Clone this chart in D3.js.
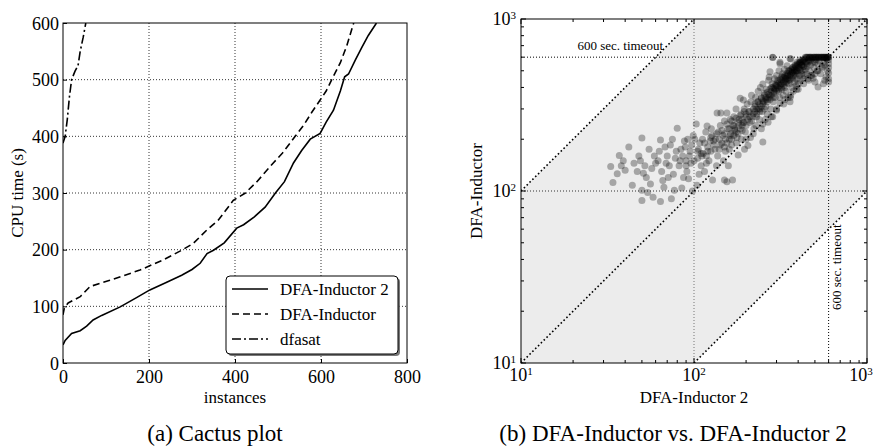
<!DOCTYPE html>
<html>
<head>
<meta charset="utf-8">
<script src="https://d3js.org/d3.v7.min.js"></script>
<style>
body { margin: 0; background: #fff; }
svg text { font-family: "Liberation Serif", "Times New Roman", "DejaVu Serif", serif; fill: #000; }
</style>
</head>
<body>
<svg id="fig" width="877" height="447"></svg>
<script>
// ---- data ----
var seriesNames = ["DFA-Inductor 2", "DFA-Inductor", "dfasat"];

// cactus plot: [instances solved, cpu time (s)]
var ind2Cactus = [[0,32],[5,40],[20,52],[40,57],[55,65],[70,76],[90,84],[133,99],[170,115],[202,129],
  [240,142],[276,155],[300,165],[319,176],[335,193],[350,199],[375,212],[404,238],[420,244],[445,258],
  [470,275],[494,300],[515,320],[536,353],[555,375],[575,395],[598,405],[612,425],[629,446],[645,480],
  [655,505],[664,510],[680,535],[695,557],[710,578],[729,600]];
var indCactus = [[0,85],[3,97],[12,106],[40,117],[63,135],[109,146],[179,164],[233,182],[276,199],
  [303,211],[335,235],[361,252],[396,287],[424,300],[451,320],[489,353],[510,370],[540,400],[560,420],
  [579,443],[598,464],[612,480],[625,500],[645,530],[660,560],[676,600]];
var dfasatCactus = [[0,388],[5,400],[10,430],[15,470],[20,500],[28,515],[35,525],[40,550],[47,575],[53,600]];

var cactusXTicks = [0, 200, 400, 600, 800];
var cactusYTicks = [0, 100, 200, 300, 400, 500, 600];

// scatter: [DFA-Inductor 2 time, DFA-Inductor time]
var scatterPts = [
  [33,139],[34,112],[37,161],[39,150],[38,140],[42,180],[44,108],[45,145],[40,132],[36,126],
  [47,130],[50,203],[50,101],[50,88],[48,160],[49,150],[52,140],[53,120],[55,175],[56,110],
  [58,92],[57,135],[60,145],[59,160],[54,98],[51,127],
  [64,198],[64,87],[62,150],[63,170],[65,130],[66,115],[68,180],[70,160],[72,140],[74,90],
  [75,200],[76,125],[77,101],[78,155],[80,232],[79,170],[67,105],[71,120],[73,185],[69,145],
  [82,140],[84,175],[85,104],[86,160],[88,195],[90,150],[91,130],[92,200],[93,118],[95,170],
  [96,145],[97,185],[98,100],[99,210],[87,120],[89,180],[94,160],[83,150],
  [103,245],[104,108],[105,155],[106,175],[108,190],[110,140],[112,200],[113,165],[115,130],
  [117,220],[119,239],[120,180],[122,150],[124,195],[125,170],[127,210],[128,116],[130,185],
  [107,125],[111,160],[118,145],[126,230],[101,200],
  [133,200],[136,284],[137,160],[138,220],[140,175],[142,240],[143,284],[145,190],[147,210],
  [150,116],[150,255],[152,170],[155,284],[155,113],[157,230],[160,200],[162,260],[165,185],
  [167,116],[168,240],[135,140],[148,150],[158,140],[163,215],[170,270],
  [172,230],[175,300],[177,205],[180,162],[182,260],[185,346],[187,280],[190,240],[193,338],
  [195,300],[198,220],[200,270],[203,320],[205,184],[207,290],[210,250],[213,330],[215,360],
  [218,270],[220,300],[222,230],[225,310],[227,350],[230,280],[176,190],[188,200],[196,175],
  [212,205],[228,240],
  [233,330],[235,380],[238,260],[240,300],[242,400],[245,350],[248,290],[250,419],[250,193],
  [253,330],[255,370],[258,260],[260,310],[262,390],[265,340],[268,251],[270,440],[272,460],
  [275,494],[275,360],[278,300],[280,400],[283,420],[285,597],[287,330],[290,380],[292,450],
  [295,350],[298,410],[300,300],[245,230],[265,280],[285,270],[300,470],
  [305,440],[308,380],[310,500],[312,350],[314,550],[314,324],[318,420],[320,460],[322,390],
  [325,480],[328,360],[330,430],[333,510],[335,400],[338,450],[340,380],[345,535],[345,425],
  [348,470],[350,350],[352,500],[355,420],[358,440],[359,330],[363,585],[365,480],[368,400],
  [370,520],[373,450],[375,380],[378,490],[380,430],[383,540],[385,470],[388,410],[390,500],
  [393,450],[395,560],[398,480],[400,420],[336,340],[362,360],[392,390],[410,578],
  [405,520],[408,470],[410,560],[412,440],[415,500],[418,540],[420,480],[425,505],[428,450],
  [430,580],[433,530],[435,470],[440,510],[445,560],[448,480],[452,530],[455,450],[460,570],
  [465,500],[472,540],[475,470],[485,560],[488,452],[495,520],[500,430],[505,580],[515,500],
  [521,402],[518,550],[530,570],[540,480],[550,530],[565,560],[580,590],
  [600,485],[600,430],[600,450],[600,520],[600,550],[600,580],[590,500],[580,460],[570,440],[560,420],
  [150,180],[155,190],[160,175],[165,200],[170,210],[175,220],[180,215],[185,230],[190,225],
  [195,250],[200,240],[205,260],[210,270],[215,255],[220,280],[225,290],[230,270],[235,300],
  [240,290],[245,310],[250,320],[255,300],[260,340],[265,330],[270,350],[275,340],[280,360],
  [285,350],[290,370],[295,390],[300,380],[305,400],[310,390],[315,410],[320,400],[325,420],
  [330,410],[335,440],[340,430],[345,450],[350,440],[355,460],[360,470],[365,455],[370,490],
  [375,470],[380,500],[385,490],[390,510],[395,500],[400,520],[410,510],[420,540],[430,530],
  [440,560],[450,550],[460,580],[470,570],[480,590],
  [200,200],[220,215],[250,245],[280,270],[300,295],[330,320],[360,350],[400,390],[430,420],
  [460,440],[480,470],[500,480],[520,500],[550,520],[570,540],[500,560],
  [225,320],[235,330],[245,345],[255,360],[265,375],[275,390],[285,400],[295,415],[305,430],
  [315,445],[325,460],[335,470],[345,485],[355,500],[365,510],[375,525],[385,535],[395,545],
  [405,555],[415,565],[425,575],[435,585],
  [230,300],[240,320],[250,335],[260,350],[270,365],[280,380],[290,395],[300,410],[310,425],
  [320,440],[330,455],[340,465],[350,480],[360,495],[370,505],[380,515],[390,530],[400,540],
  [410,550],[420,560],[430,570],
  [200,280],[210,290],[190,260],[180,250],[170,240],[160,230],[150,215],[140,200],[130,195],
  [120,170],[110,165],[100,150],[90,140],
  [115,190],[125,205],[135,215],[145,225],[155,245],[165,255],[175,265],[185,275],[195,290],
  [105,170],[118,160],[132,175],[142,185],[152,200],[162,210],[172,225],[182,240],[192,250],
  [440,600],[445,600],[450,600],[455,600],[462,600],[468,600],[475,600],[482,600],[490,600],
  [497,600],[505,600],[512,600],[520,600],[528,600],[535,600],[543,600],[550,600],[558,600],
  [565,600],[572,600],[580,600],[587,600],[594,600],[600,600],[598,600],[590,600],[575,600],
  [560,600],[545,600],[525,600],[510,600],[495,600],[470,600],[285,600],[314,560],[359,590]
];
var logTicks = [10, 100, 1000];
var timeout = 600;
var diagRatios = [10, 1, 0.1];

var svg = d3.select("#fig");

function supLabel(sel, base, exp) {
  sel.text("");
  sel.append("tspan").text(base);
  sel.append("tspan").attr("dy", "-0.55em").attr("font-size", "11px").text(exp);
}

// ===== (a) cactus plot =====
function DrawCactus() {
  var x = d3.scaleLinear().domain([0, 800]).range([63, 407]);
  var y = d3.scaleLinear().domain([0, 600]).range([363, 23]);

  svg.append("clipPath").attr("id", "clipA")
     .append("rect").attr("x", 63).attr("y", 23).attr("width", 344).attr("height", 340);

  var g = svg.append("g");

  // grid
  g.selectAll(".gx").data(cactusXTicks.slice(1, -1)).enter().append("line")
   .attr("x1", function(d) { return x(d); }).attr("x2", function(d) { return x(d); })
   .attr("y1", y(0)).attr("y2", y(600))
   .attr("stroke", "#000").attr("stroke-width", 0.8).attr("stroke-dasharray", "1,2");
  g.selectAll(".gy").data(cactusYTicks.slice(1, -1)).enter().append("line")
   .attr("y1", function(d) { return y(d); }).attr("y2", function(d) { return y(d); })
   .attr("x1", x(0)).attr("x2", x(800))
   .attr("stroke", "#000").attr("stroke-width", 0.8).attr("stroke-dasharray", "1,2");

  var line = d3.line().x(function(d) { return x(d[0]); }).y(function(d) { return y(d[1]); });
  var dashes = [null, "7,4", "9,3,2,3"];
  var curves = [ind2Cactus, indCactus, dfasatCactus];
  curves.forEach(function(c, i) {
    g.append("path").datum(c)
     .attr("clip-path", "url(#clipA)")
     .attr("d", line)
     .attr("fill", "none").attr("stroke", "#000").attr("stroke-width", 1.6)
     .attr("stroke-dasharray", dashes[i]);
  });

  // axes
  var xa = g.append("g").attr("transform", "translate(0,363)")
    .call(d3.axisBottom(x).tickValues(cactusXTicks).tickSizeInner(-4).tickSizeOuter(0).tickPadding(7));
  var ya = g.append("g").attr("transform", "translate(63,0)")
    .call(d3.axisLeft(y).tickValues(cactusYTicks).tickSizeInner(-4).tickSizeOuter(0).tickPadding(4));
  [xa, ya].forEach(function(a) {
    a.attr("font-family", null);
    a.select(".domain").remove();
    a.selectAll("text").attr("font-size", "18px");
  });
  ya.selectAll("text").attr("dy", "0.35em");

  g.append("rect").attr("x", 63).attr("y", 23).attr("width", 344).attr("height", 340)
   .attr("fill", "none").attr("stroke", "#000").attr("stroke-width", 1);

  g.append("text").attr("x", 235).attr("y", 403).attr("text-anchor", "middle")
   .attr("font-size", "17px").text("instances");
  g.append("text").attr("transform", "translate(23,193) rotate(-90)").attr("text-anchor", "middle")
   .attr("font-size", "17px").text("CPU time (s)");

  // legend
  var lg = g.append("g");
  lg.append("rect").attr("x", 228).attr("y", 278).attr("width", 172).attr("height", 78)
    .attr("rx", 4).attr("fill", "#555").attr("opacity", 0.8);
  lg.append("rect").attr("x", 226).attr("y", 276).attr("width", 172).attr("height", 78)
    .attr("rx", 4).attr("fill", "#fff").attr("stroke", "#000").attr("stroke-width", 1);
  seriesNames.forEach(function(n, i) {
    var yy = 289 + i * 25;
    lg.append("line").attr("x1", 232).attr("x2", 268).attr("y1", yy).attr("y2", yy)
      .attr("stroke", "#000").attr("stroke-width", 1.6).attr("stroke-dasharray", dashes[i]);
    lg.append("text").attr("x", 280).attr("y", yy).attr("dy", "0.35em")
      .attr("font-size", "17px").text(n);
  });

  svg.append("text").attr("x", 215).attr("y", 441).attr("text-anchor", "middle")
     .attr("font-size", "23px").text("(a) Cactus plot");
}

// ===== (b) scatter plot =====
function DrawScatter() {
  var x = d3.scaleLog().domain([10, 1000]).range([521, 867]);
  var y = d3.scaleLog().domain([10, 1000]).range([363, 19]);

  svg.append("clipPath").attr("id", "clipB")
     .append("rect").attr("x", 521).attr("y", 19).attr("width", 346).attr("height", 344);

  var g = svg.append("g").attr("clip-path", "url(#clipB)");

  // shaded band between y = 10x and y = x/10
  var band = [[10,10],[10,100],[100,1000],[1000,1000],[1000,100],[100,10]];
  g.append("path")
   .attr("d", d3.line().x(function(d) { return x(d[0]); }).y(function(d) { return y(d[1]); })(band) + "Z")
   .attr("fill", "#ececec");

  // grid at 10^2
  g.append("line").attr("x1", x(100)).attr("x2", x(100)).attr("y1", y(10)).attr("y2", y(1000))
   .attr("stroke", "#777").attr("stroke-width", 1).attr("stroke-dasharray", "1,2");
  g.append("line").attr("y1", y(100)).attr("y2", y(100)).attr("x1", x(10)).attr("x2", x(1000))
   .attr("stroke", "#333").attr("stroke-width", 1).attr("stroke-dasharray", "1,2");

  // diagonals
  diagRatios.forEach(function(r) {
    g.append("line")
     .attr("x1", x(10)).attr("y1", y(10 * r))
     .attr("x2", x(1000)).attr("y2", y(1000 * r))
     .attr("stroke", "#000").attr("stroke-width", 1.6).attr("stroke-dasharray", "1.6,2.4");
  });

  // timeout lines
  g.append("line").attr("x1", x(10)).attr("x2", x(1000)).attr("y1", y(timeout)).attr("y2", y(timeout))
   .attr("stroke", "#000").attr("stroke-width", 1).attr("stroke-dasharray", "1,2");
  g.append("line").attr("x1", x(timeout)).attr("x2", x(timeout)).attr("y1", y(10)).attr("y2", y(1000))
   .attr("stroke", "#000").attr("stroke-width", 1).attr("stroke-dasharray", "1,2");

  g.selectAll(".pt").data(scatterPts).enter().append("circle")
   .attr("class", "pt")
   .attr("cx", function(d) { return x(d[0]); })
   .attr("cy", function(d) { return y(d[1]); })
   .attr("r", 3.5)
   .attr("fill", "#000").attr("fill-opacity", 0.3);

  svg.append("text").attr("x", 663).attr("y", 50).attr("text-anchor", "end")
     .attr("font-size", "13px").text(timeout + " sec. timeout");
  svg.append("text").attr("transform", "translate(841,310) rotate(-90)")
     .attr("font-size", "13px").text(timeout + " sec. timeout");

  // ticks (inward, all four sides)
  var t = svg.append("g");
  var all = x.ticks();
  all.forEach(function(v) {
    var major = logTicks.indexOf(v) >= 0;
    var len = major ? 5 : 3;
    t.append("line").attr("x1", x(v)).attr("x2", x(v)).attr("y1", 363).attr("y2", 363 - len).attr("stroke", "#000");
    t.append("line").attr("x1", x(v)).attr("x2", x(v)).attr("y1", 19).attr("y2", 19 + len).attr("stroke", "#000");
    t.append("line").attr("y1", y(v)).attr("y2", y(v)).attr("x1", 521).attr("x2", 521 + len).attr("stroke", "#000");
    t.append("line").attr("y1", y(v)).attr("y2", y(v)).attr("x1", 867).attr("x2", 867 - len).attr("stroke", "#000");
  });
  logTicks.forEach(function(v, i) {
    var e = String(Math.round(Math.log10(v)));
    // last label is pulled in a little so it stays inside the page
    var lx = i === logTicks.length - 1 ? x(v) - 6 : x(v);
    supLabel(t.append("text").attr("x", lx).attr("y", 381).attr("text-anchor", "middle")
      .attr("font-size", "18px"), "10", e);
    supLabel(t.append("text").attr("x", 516).attr("y", y(v) + 6).attr("text-anchor", "end")
      .attr("font-size", "18px"), "10", e);
  });

  t.append("rect").attr("x", 521).attr("y", 19).attr("width", 346).attr("height", 344)
   .attr("fill", "none").attr("stroke", "#000").attr("stroke-width", 1);

  t.append("text").attr("x", 694).attr("y", 403).attr("text-anchor", "middle")
   .attr("font-size", "17px").text(seriesNames[0]);
  t.append("text").attr("transform", "translate(482,191) rotate(-90)").attr("text-anchor", "middle")
   .attr("font-size", "17px").text(seriesNames[1]);

  svg.append("text").attr("x", 673).attr("y", 441).attr("text-anchor", "middle")
     .attr("font-size", "23px").text("(b) " + seriesNames[1] + " vs. " + seriesNames[0]);
}

DrawCactus();
DrawScatter();
</script>
</body>
</html>
